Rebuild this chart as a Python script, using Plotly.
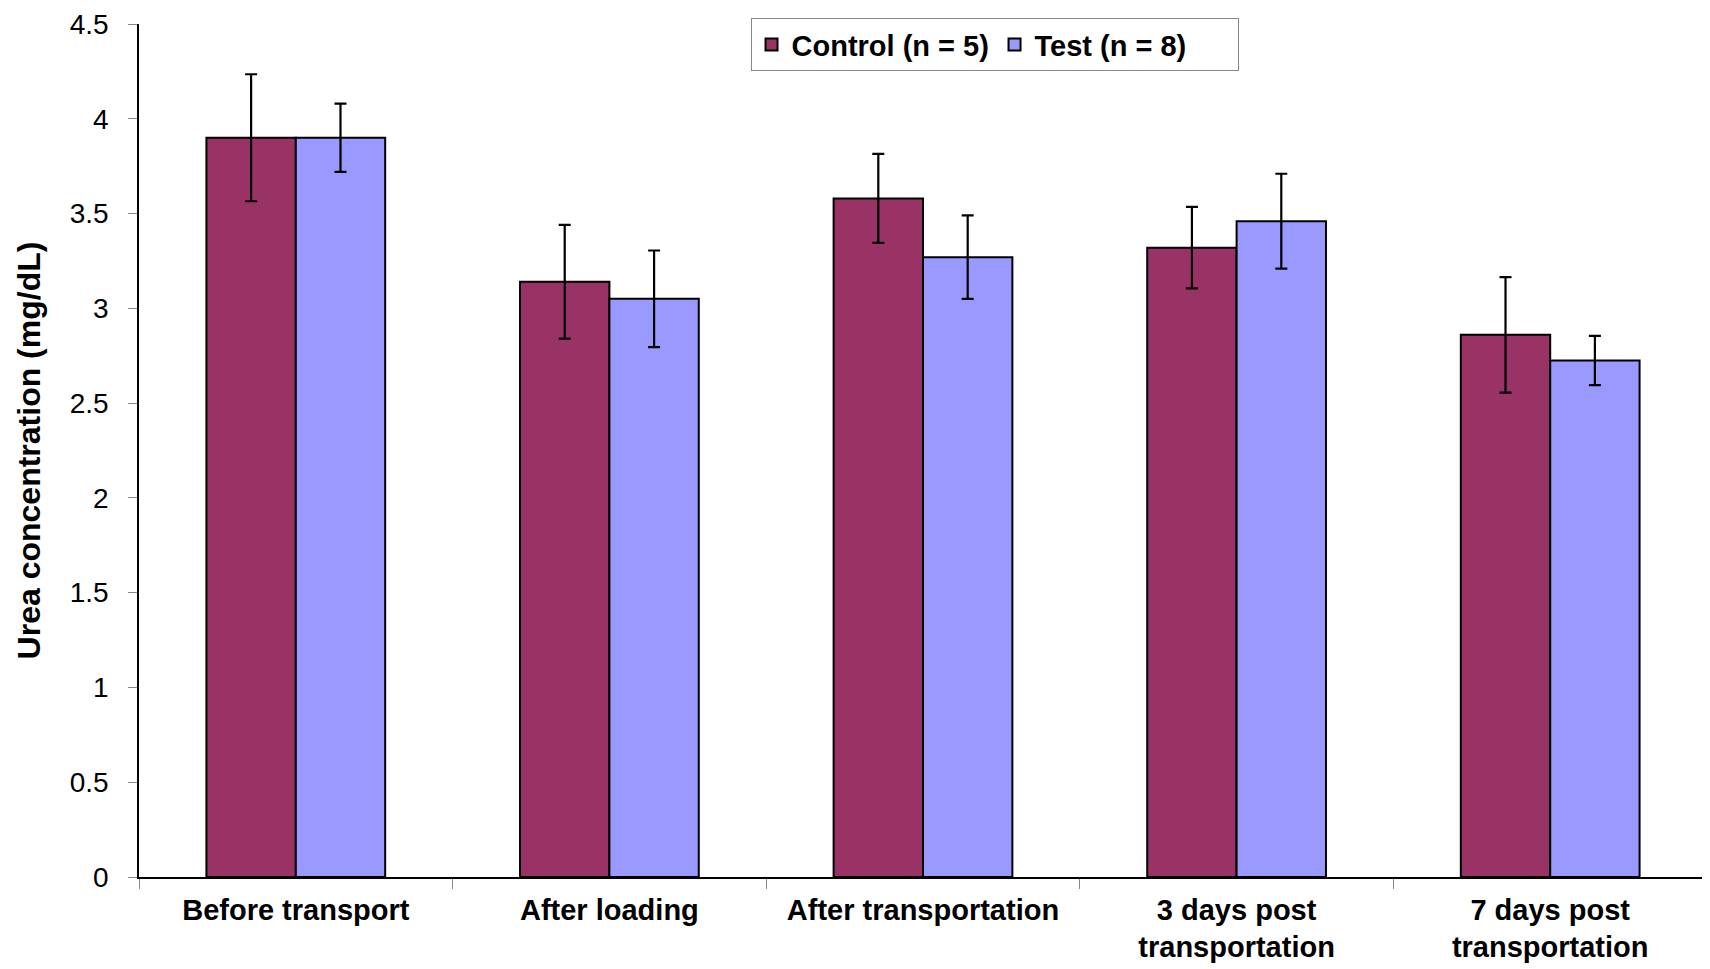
import plotly.graph_objects as go

categories = ["Before transport", "After loading", "After transportation",
              "3 days post<br>transportation", "7 days post<br>transportation"]
control_vals = [3.90, 3.14, 3.58, 3.32, 2.86]
control_err = [0.335, 0.30, 0.235, 0.215, 0.305]
test_vals = [3.90, 3.05, 3.27, 3.46, 2.725]
test_err = [0.18, 0.255, 0.22, 0.25, 0.13]
series_names = ["Control (n = 5)", "Test (n = 8)"]
colors = ["#993366", "#9999FF"]

fig = go.Figure()
for name, vals, errs, col in zip(series_names, [control_vals, test_vals],
                                 [control_err, test_err], colors):
    fig.add_trace(go.Bar(
        x=categories, y=vals, name=name,
        marker=dict(color=col, line=dict(color="black", width=2)),
        error_y=dict(type="data", array=errs, visible=True,
                     color="black", thickness=2.2, width=6),
    ))

fig.update_layout(
    width=1702, height=961,
    barmode="group", bargap=0.43, bargroupgap=0,
    plot_bgcolor="white", paper_bgcolor="white",
    margin=dict(l=131, r=3, t=16, b=92, autoexpand=False),
    font=dict(family="Liberation Sans, Arial, sans-serif", color="black"),
    legend=dict(
        orientation="h", x=0.39, xanchor="left", y=1.007, yanchor="top",
        bgcolor="white", bordercolor="#888888", borderwidth=1,
        font=dict(size=29, family="Liberation Sans, Arial, sans-serif", weight="bold"),
        itemwidth=30, traceorder="normal", entrywidth=198,
    ),
    showlegend=True,
)
fig.update_xaxes(
    showline=True, linecolor="black", linewidth=1.5,
    ticks="outside", tickson="boundaries", ticklen=10, tickcolor="#888888",
    tickangle=0, ticklabelstandoff=6,
    tickfont=dict(size=29, family="Liberation Sans, Arial, sans-serif",
                  weight="bold"),
    showgrid=False, automargin=False,
)
fig.update_yaxes(
    range=[0, 4.5], dtick=0.5, showline=True, linecolor="black", linewidth=1.5,
    ticks="outside", ticklen=9, tickcolor="#888888",
    tickfont=dict(size=28, family="Liberation Sans, Arial, sans-serif"),
    ticklabelstandoff=14,
    showgrid=False, zeroline=False, automargin=False,
    title=dict(text="Urea concentration (mg/dL)", standoff=20,
               font=dict(size=32, family="Liberation Sans, Arial, sans-serif",
                         weight="bold")),
)

fig.write_html("out.html")
